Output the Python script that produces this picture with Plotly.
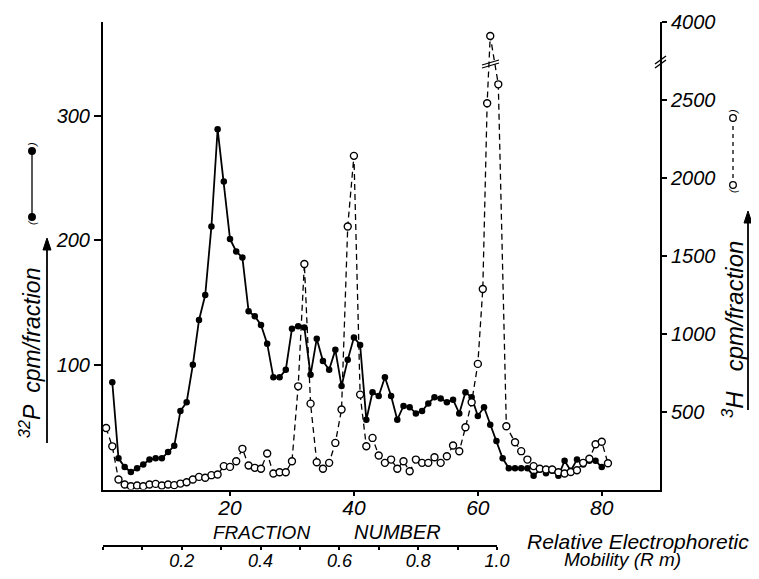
import plotly.graph_objects as go

# ---------------- data ----------------
# 32P (filled dots, solid line), cpm per fraction, left axis
p32_fraction = list(range(1, 81))
p32_cpm = [86, 25, 18, 14, 17, 20, 24, 25, 25, 30,
           35, 63, 70, 100, 136, 156, 211, 289, 247, 201,
           191, 186, 143, 139, 132, 117, 90, 90, 96, 129,
           131, 130, 92, 121, 103, 96, 112, 83, 104, 122,
           116, 56, 78, 75, 90, 75, 56, 67, 66, 61,
           63, 69, 74, 73, 70, 72, 61, 78, 74, 59,
           66, 52, 39, 25, 17, 17, 17, 17, 11, 16,
           13, 15, 11, 23, 15, 24, 20, 23, 23, 18]

# 3H (open circles, dashed line), cpm per fraction, right axis
h3_fraction = list(range(0, 61)) + [60.8, 61.5, 62, 63.3, 64.6] + list(range(66, 82))
h3_cpm = [395, 277, 64, 32, 21, 26, 21, 32, 36, 26,
          32, 28, 38, 47, 64, 81, 75, 92, 96, 150,
          145, 181, 261, 154, 139, 133, 231, 103, 111, 111,
          181, 662, 1447, 551, 175, 133, 171, 299, 513, 1688,
          2141, 609, 278, 331, 218, 171, 192, 133, 181, 117,
          192, 171, 171, 207, 171, 213, 282, 245, 399, 560,
          806,
          1287, 2479, 3910, 2600, 406,
          303, 246, 192, 150, 133, 128, 128, 111, 103, 112,
          124, 171, 197, 290, 306, 168]

fraction_ticks = [20, 40, 60, 80]
p32_ticks = [100, 200, 300]
h3_ticks = [500, 1000, 1500, 2000, 2500, 4000]
mobility_ticks = [0.0, 0.1, 0.2, 0.3, 0.4, 0.5, 0.6, 0.7, 0.8, 0.9, 1.0]
mobility_labels = ["", "", "0.2", "", "0.4", "", "0.6", "", "0.8", "", "1.0"]

# the right axis is broken: the segment 2750..3750 is left out
H3_GAP_LOW, H3_GAP_HIGH = 2750, 3750


def h3_axis(v):
    return v - (H3_GAP_HIGH - H3_GAP_LOW) if v >= H3_GAP_HIGH else v


# ---------------- geometry (screen pixels; page body adds an 8px offset) ----
OFF = 8
W, H = 743, 563                              # fits the window with the body margin
PLOT_L, PLOT_R, PLOT_T = 103, 660, 22        # on screen
ML = PLOT_L - OFF
MR = W - (PLOT_R - OFF)
MT = PLOT_T - OFF
MB = 2
PW = W - ML - MR
PH = H - MT - MB
AXIS_Y = 489.5                               # on screen
MOBILITY_Y = 546                             # on screen


def px(x):
    return (x - OFF - ML) / PW


def py(y):
    return (H - MB - (y - OFF)) / PH


FONT = "Liberation Sans"
ink = "black"
clear = "rgba(0,0,0,0)"

fig = go.Figure()

fig.add_trace(go.Scatter(
    x=p32_fraction, y=p32_cpm, mode="lines+markers", name="32P",
    line=dict(color=ink, width=1.8),
    marker=dict(size=6.5, color=ink),
    showlegend=False,
))

fig.add_trace(go.Scatter(
    x=h3_fraction, y=[h3_axis(v) for v in h3_cpm], yaxis="y2",
    mode="lines+markers", name="3H", customdata=h3_cpm,
    hovertemplate="fraction %{x}<br>%{customdata} cpm<extra></extra>",
    line=dict(color=ink, width=1.3, dash="6px,4px"),
    marker=dict(size=7, color="white", line=dict(color=ink, width=1.4)),
    showlegend=False,
))

# carrier trace for the mobility axis
fig.add_trace(go.Scatter(x=[0, 1], y=[None, None], xaxis="x2", yaxis="y",
                         mode="lines", showlegend=False, hoverinfo="skip"))

ydom0 = py(AXIS_Y)

fig.update_layout(
    width=W, height=H,
    margin=dict(l=ML, r=MR, t=MT, b=MB, autoexpand=False),
    paper_bgcolor="white", plot_bgcolor=clear,
    font=dict(family=FONT, color=ink),
    xaxis=dict(domain=[0, 1], range=[-0.5, 89.4], tickvals=fraction_ticks,
               ticks="outside", ticklen=4, tickwidth=1.5, tickcolor=ink,
               ticklabelstandoff=-6,
               showline=True, linewidth=2, linecolor=ink, showgrid=False,
               zeroline=False, anchor="y", automargin=False,
               tickfont=dict(size=21, style="italic", family=FONT)),
    yaxis=dict(domain=[ydom0, 1], range=[0, 375], tickvals=p32_ticks,
               ticks="outside", ticklen=7, tickwidth=1.5, tickcolor=ink,
               showline=True, linewidth=2, linecolor=ink, showgrid=False,
               zeroline=False, automargin=False,
               tickfont=dict(size=20, style="italic", family=FONT)),
    yaxis2=dict(overlaying="y", side="right", range=[0, 3000],
                tickvals=[h3_axis(v) for v in h3_ticks],
                ticktext=[str(v) for v in h3_ticks],
                ticks="outside", ticklen=5, tickwidth=1.5, tickcolor=ink,
                showline=True, linewidth=2, linecolor=ink, showgrid=False,
                zeroline=False, automargin=False,
                tickfont=dict(size=20, style="italic", family=FONT)),
    xaxis2=dict(anchor="free", position=py(MOBILITY_Y), domain=[0, px(497)],
                range=[0, 1.0], tickvals=mobility_ticks, ticktext=mobility_labels,
                ticks="outside", ticklen=3, tickwidth=1.5, tickcolor=ink,
                ticklabelstandoff=-5,
                showline=True, linewidth=2, linecolor=ink, showgrid=False,
                zeroline=False, automargin=False,
                tickfont=dict(size=18, style="italic", family=FONT)),
)

ann = []


def text(x, y, s, size, angle=0):
    ann.append(dict(x=px(x), y=py(y), xref="paper", yref="paper", text=s,
                    showarrow=False, textangle=angle, xanchor="center",
                    yanchor="middle",
                    font=dict(size=size, style="italic", family=FONT, color=ink)))


text(261, 532, "FRACTION", 19)
text(397, 532, "NUMBER", 20)
text(638, 541, "Relative Electrophoretic", 21)
text(622, 559, "Mobility (R m)", 19)
text(30, 353, "<sup>32</sup>P  cpm/fraction", 23, -90)
text(733, 330, "<sup>3</sup>H   cpm/fraction", 24, -90)

# legend-key brackets
text(32, 145, ")", 11, -90)
text(32, 223, "(", 11, -90)
text(733, 112, ")", 11, -90)
text(733, 191, "(", 11, -90)

shapes = []


def seg(x0, y0, x1, y1, w=1.3, dash="solid"):
    shapes.append(dict(type="line", xref="paper", yref="paper",
                       x0=px(x0), y0=py(y0), x1=px(x1), y1=py(y1),
                       line=dict(color=ink, width=w, dash=dash)))


def dot(x, y, r, fill):
    shapes.append(dict(type="circle", xref="paper", yref="paper",
                       x0=px(x - r), x1=px(x + r), y0=py(y + r), y1=py(y - r),
                       line=dict(color=ink, width=1.3), fillcolor=fill))


def arrow_up(x, y_tail, y_tip):
    seg(x, y_tail, x, y_tip + 8, 1.8)
    pts = [(x, y_tip), (x - 4, y_tip + 12), (x + 4, y_tip + 12)]
    path = "M " + " L ".join(f"{px(a):.5f},{py(b):.5f}" for a, b in pts) + " Z"
    shapes.append(dict(type="path", xref="paper", yref="paper", path=path,
                       fillcolor=ink, line=dict(color=ink, width=1)))


# axis-title arrows
arrow_up(47, 443, 238)
arrow_up(748, 410, 211)

# legend keys
seg(32, 151, 32, 217, 1.3)
dot(32, 151, 3.3, ink)
dot(32, 217, 3.3, ink)
seg(733, 118, 733, 185, 1.3, "4px,4px")
dot(733, 118, 3.3, "white")
dot(733, 185, 3.3, "white")

# axis-break marks
seg(655, 68, 666, 60, 1.4)
seg(655, 64, 666, 56, 1.4)
seg(482, 68, 499, 63, 1.3)
seg(482, 65, 499, 60, 1.3)

fig.update_layout(annotations=ann, shapes=shapes)

fig.write_html("out.html")
